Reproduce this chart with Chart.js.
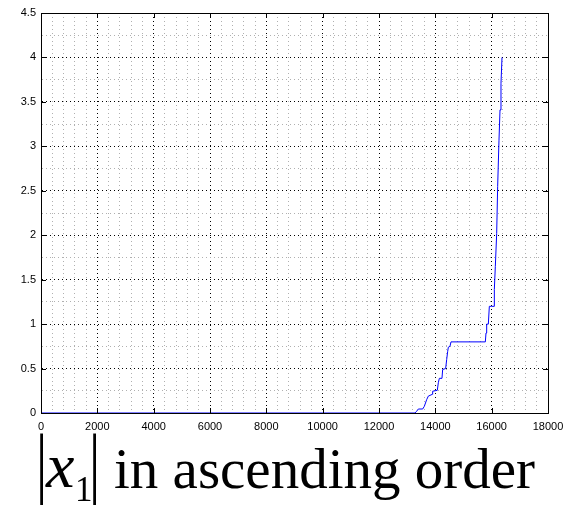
<!DOCTYPE html>
<html>
<head>
<meta charset="utf-8">
<script src="https://cdn.jsdelivr.net/npm/chart.js@4"></script>
<style>
  body { margin: 0; background: #fff; }
  #wrap { position: relative; width: 578px; height: 511px; overflow: hidden; }
  #xlabel span {
    position: absolute; white-space: nowrap; line-height: 1; color: #000;
    font-family: 'Liberation Serif', 'Times New Roman', serif;
  }
  #xlabel .abs { font-size: 56px; top: 436px; transform: scaleY(1.4); transform-origin: 50% 34px; }
  #xlabel .var { font-size: 64px; font-style: italic; top: 434px; left: 46px; }
  #xlabel .sub { font-size: 35px; top: 472px; left: 75px; }
  #xlabel .txt { font-size: 57px; top: 440px; left: 114px; }
</style>
</head>
<body>
<div id="wrap">
  <canvas id="sortedChart" width="578" height="440"></canvas>
  <div id="xlabel">
    <span class="abs" style="left:36px">|</span><span class="var">x</span><span class="sub">1</span><span class="abs" style="left:89px">|</span><span class="txt">in ascending order</span>
  </div>
</div>
<script>
// values (sorted |x1|)
const xValues = [0, 13278, 13337, 13396, 13550, 13609, 13692, 13751, 13893, 13905, 14070, 14106, 14142, 14236,
  14260, 14366, 14402, 14437, 14461, 14520, 14556, 15775, 15799, 15823, 15882, 15917, 16000, 16083,
  16095, 16130, 16178, 16213, 16260, 16296, 16331, 16367];
const yValues = [0, 0, 0.02, 0.045, 0.045, 0.075, 0.15, 0.19, 0.21, 0.245, 0.255, 0.34, 0.39, 0.39,
  0.49, 0.5, 0.6, 0.69, 0.74, 0.75, 0.8, 0.8, 0.9, 1.0, 1.0, 1.2, 1.2, 1.2,
  1.39, 1.65, 2.02, 2.55, 3.07, 3.41, 3.71, 4.0];

const xMin = 0, xMax = 18000, xMajor = 2000, xMinor = 400;
const yMin = 0, yMax = 4.5, yMajor = 0.5, yMinor = 0.25;

const lineColor = '#0000ff';
const majorGrid = '#000000';
const minorGrid = '#b0b0b0';
const tickFont = { family: "'Liberation Sans', Arial, sans-serif", size: 11 };

const isMajor = (v, step) => Math.abs(v / step - Math.round(v / step)) < 1e-6;

// box around the plot + inward tick marks on all four sides
const boxPlugin = {
    id: 'box',
    afterDatasetsDraw(chart) {
        const { ctx, chartArea: a, scales } = chart;
        ctx.save();
        ctx.strokeStyle = '#000';
        ctx.lineWidth = 1;
        ctx.beginPath();
        scales.x.ticks.forEach(t => {
            if (!isMajor(t.value, xMajor)) return;
            const px = Math.round(scales.x.getPixelForValue(t.value)) + 0.5;
            ctx.moveTo(px, a.bottom); ctx.lineTo(px, a.bottom - 5);
            ctx.moveTo(px, a.top); ctx.lineTo(px, a.top + 5);
        });
        scales.y.ticks.forEach(t => {
            if (!isMajor(t.value, yMajor)) return;
            const py = Math.round(scales.y.getPixelForValue(t.value)) + 0.5;
            ctx.moveTo(a.left, py); ctx.lineTo(a.left + 5, py);
            ctx.moveTo(a.right, py); ctx.lineTo(a.right - 5, py);
        });
        ctx.stroke();
        ctx.strokeRect(Math.round(a.left) + 0.5, Math.round(a.top) + 0.5,
            Math.round(a.right - a.left), Math.round(a.bottom - a.top));
        ctx.restore();
    }
};

const points = xValues.map((x, i) => ({ x: x, y: yValues[i] }));

new Chart(document.getElementById('sortedChart').getContext('2d'), {
    type: 'scatter',
    data: {
        datasets: [{
            data: points,
            showLine: true,
            borderColor: lineColor,
            borderWidth: 1,
            pointRadius: 0,
            fill: false
        }]
    },
    options: {
        responsive: false,
        animation: false,
        layout: { padding: { left: 0, right: 30, top: 13, bottom: 0 } },
        plugins: { legend: { display: false }, tooltip: { enabled: false } },
        scales: {
            x: {
                type: 'linear',
                min: xMin,
                max: xMax,
                afterFit: s => { s.height = 27; },
                ticks: {
                    stepSize: xMinor,
                    autoSkip: false,
                    maxRotation: 0,
                    padding: 7,
                    color: '#000',
                    font: tickFont,
                    callback: v => isMajor(v, xMajor) ? String(v) : ''
                },
                grid: {
                    drawTicks: false,
                    lineWidth: 1,
                    color: c => isMajor(c.tick.value, xMajor) ? majorGrid : minorGrid
                },
                border: { display: true, color: '#000', width: 1, dash: [1, 3] }
            },
            y: {
                type: 'linear',
                min: yMin,
                max: yMax,
                afterFit: s => { s.width = 41; },
                ticks: {
                    stepSize: yMinor,
                    autoSkip: false,
                    padding: 5,
                    color: '#000',
                    font: tickFont,
                    callback: v => isMajor(v, yMajor) ? String(Math.round(v * 10) / 10) : ''
                },
                grid: {
                    drawTicks: false,
                    lineWidth: 1,
                    color: c => isMajor(c.tick.value, yMajor) ? majorGrid : minorGrid
                },
                border: { display: true, color: '#000', width: 1, dash: [1, 3] }
            }
        }
    },
    plugins: [boxPlugin]
});
</script>
</body>
</html>
